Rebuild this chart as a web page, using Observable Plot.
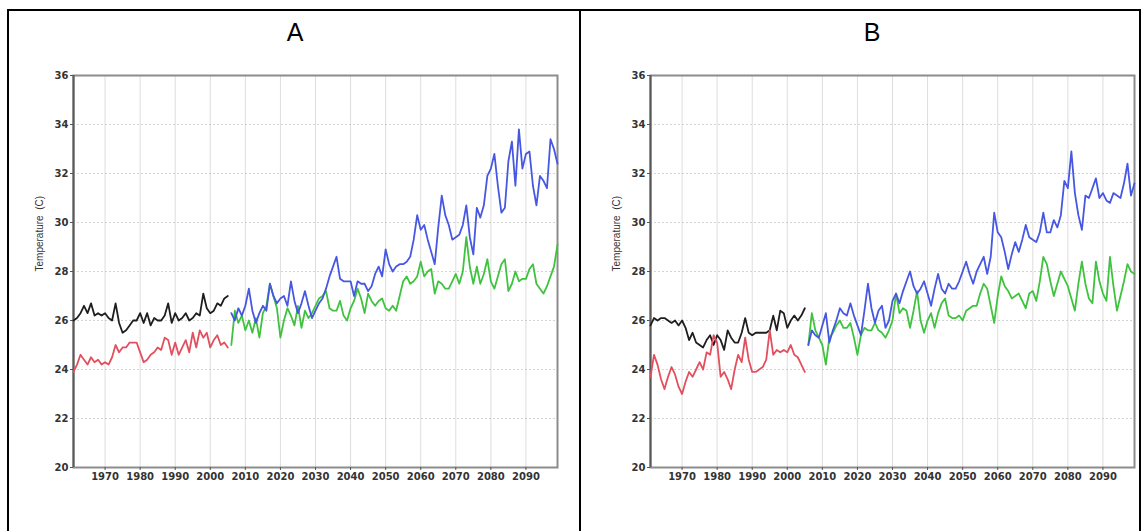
<!DOCTYPE html>
<html>
<head>
<meta charset="utf-8">
<script src="https://cdn.jsdelivr.net/npm/d3@7"></script>
<script src="https://cdn.jsdelivr.net/npm/@observablehq/plot@0.6"></script>
<style>
  html, body { margin: 0; padding: 0; background: #fff; }
  body { width: 1148px; height: 531px; position: relative; overflow: hidden; font-family: "Liberation Sans", Arial, sans-serif; }
  .frame { position: absolute; left: 7px; top: 9px; width: 1134px; height: 540px; border: 2px solid #000; box-sizing: border-box; }
  .divider { position: absolute; left: 579px; top: 9px; width: 2px; height: 540px; background: #000; }
  .title { position: absolute; top: 20px; width: 60px; font-size: 25px; line-height: 25px; text-align: center; color: #000; }
  .panel { position: absolute; top: 65px; width: 560px; height: 430px; }
  .panel svg { max-width: none !important; }
</style>
</head>
<body>
<div class="frame"></div>
<div class="divider"></div>
<div class="title" style="left:265px">A</div>
<div class="title" style="left:842px">B</div>
<div class="panel" id="panelA" style="left:20px"></div>
<div class="panel" id="panelB" style="left:597px"></div>
<script>
// Annual mean temperature (°C): historical run 1961–2005, two scenario runs 2006–2099.
const histStart = 1961;
const futStart = 2006;
const xTicks = [1970, 1980, 1990, 2000, 2010, 2020, 2030, 2040, 2050, 2060, 2070, 2080, 2090];
const yTicks = [20, 22, 24, 26, 28, 30, 32, 34, 36];
const yLabel = "Temperature  (C)";

// Panel A
const blackA = [26.0, 26.1, 26.3, 26.6, 26.3, 26.7, 26.2, 26.3, 26.2, 26.3,
  26.1, 26.0, 26.7, 25.9, 25.5, 25.6, 25.8, 26.0, 26.0, 26.3,
  25.9, 26.3, 25.8, 26.1, 26.0, 26.0, 26.2, 26.7, 25.9, 26.3,
  26.0, 26.1, 26.3, 26.0, 26.1, 26.3, 26.2, 27.1, 26.5, 26.3,
  26.4, 26.7, 26.6, 26.9, 27.0];
const redA = [23.9, 24.2, 24.6, 24.4, 24.2, 24.5, 24.3, 24.4, 24.2, 24.3,
  24.2, 24.5, 25.0, 24.7, 24.9, 24.9, 25.1, 25.1, 25.1, 24.7,
  24.3, 24.4, 24.6, 24.7, 24.9, 24.8, 25.3, 25.2, 24.6, 25.1,
  24.6, 24.9, 25.2, 24.7, 25.5, 24.9, 25.6, 25.3, 25.5, 24.9,
  25.2, 25.4, 25.0, 25.1, 24.9];
const blueA = [26.3, 26.0, 26.5, 26.2, 26.6, 27.3, 26.4, 25.9, 26.3, 26.6,
  26.4, 27.5, 27.0, 26.7, 26.9, 27.0, 26.6, 27.6, 26.8, 26.3,
  26.7, 27.2, 26.6, 26.1, 26.4, 26.7, 26.9, 27.3, 27.8, 28.2,
  28.6, 27.7, 27.6, 27.6, 27.6, 27.0, 27.6, 27.5, 27.5, 27.2,
  27.4, 27.9, 28.2, 27.8, 28.9, 28.3, 28.0, 28.2, 28.3, 28.3,
  28.4, 28.6, 29.3, 30.3, 29.7, 29.9, 29.3, 28.8, 28.3, 29.8,
  31.1, 30.3, 29.9, 29.3, 29.4, 29.5, 29.9, 30.7, 29.4, 28.7,
  30.6, 30.2, 30.7, 31.9, 32.2, 32.8, 31.5, 30.4, 30.6, 32.5,
  33.3, 31.5, 33.8, 32.2, 32.8, 32.9, 31.5, 30.7, 31.9, 31.7,
  31.4, 33.4, 33.0, 32.4];
const greenA = [25.0, 26.4, 25.9, 26.2, 25.6, 26.0, 25.5, 26.1, 25.3, 26.3,
  26.6, 27.5, 27.0, 26.5, 25.3, 26.0, 26.5, 26.2, 25.8, 26.6,
  25.7, 26.4, 26.1, 26.3, 26.6, 26.9, 27.0, 27.2, 26.5, 26.4,
  26.4, 26.8, 26.2, 26.0, 26.5, 26.8, 27.3, 26.9, 26.3, 27.1,
  26.8, 26.6, 26.8, 26.9, 26.5, 26.4, 26.6, 26.4, 27.0, 27.6,
  27.8, 27.5, 27.6, 27.8, 28.4, 27.8, 28.0, 28.1, 27.1, 27.6,
  27.5, 27.3, 27.3, 27.6, 27.9, 27.5, 28.0, 29.4, 28.2, 27.5,
  28.2, 27.5, 27.9, 28.5, 27.6, 27.3, 27.8, 28.3, 28.5, 27.2,
  27.5, 28.0, 27.6, 27.7, 27.7, 28.1, 28.3, 27.5, 27.3, 27.1,
  27.4, 27.8, 28.2, 29.1];

// Panel B
const blackB = [25.8, 26.1, 26.0, 26.1, 26.1, 26.0, 25.9, 26.0, 25.8, 26.0,
  25.7, 25.2, 25.5, 25.1, 25.0, 24.9, 25.2, 25.4, 25.0, 25.4,
  25.2, 24.8, 25.6, 25.3, 25.1, 25.1, 25.5, 26.1, 25.5, 25.4,
  25.5, 25.5, 25.5, 25.5, 25.6, 26.2, 25.6, 26.4, 26.3, 25.7,
  26.0, 26.2, 26.0, 26.2, 26.5];
const redB = [23.7, 24.6, 24.2, 23.6, 23.2, 23.7, 24.1, 23.8, 23.3, 23.0,
  23.5, 23.9, 23.7, 24.0, 24.3, 24.0, 24.7, 24.6, 25.4, 25.1,
  23.7, 23.9, 23.6, 23.2, 24.0, 24.6, 24.3, 25.3, 24.4, 23.9,
  23.9, 24.0, 24.1, 24.4, 25.6, 24.6, 24.8, 24.7, 24.8, 24.7,
  25.0, 24.6, 24.5, 24.2, 23.9];
const blueB = [25.0, 25.6, 25.4, 25.3, 25.8, 26.3, 25.1, 25.6, 26.0, 26.5,
  26.3, 26.2, 26.7, 26.2, 25.8, 25.4, 26.4, 27.5, 26.5, 25.9,
  26.4, 26.6, 25.7, 26.0, 26.8, 27.1, 26.7, 27.2, 27.6, 28.0,
  27.4, 27.1, 27.3, 27.6, 27.1, 26.6, 27.3, 27.9, 27.3, 27.1,
  27.5, 27.3, 27.3, 27.6, 28.0, 28.4, 27.9, 27.5, 28.0, 28.3,
  28.6, 27.9, 28.6, 30.4, 29.6, 29.4, 28.8, 28.1, 28.7, 29.2,
  28.8, 29.3, 29.9, 29.4, 29.3, 29.2, 29.6, 30.4, 29.6, 29.6,
  30.1, 29.8, 30.3, 31.7, 31.4, 32.9, 31.2, 30.3, 29.7, 31.1,
  31.0, 31.4, 31.8, 31.0, 31.2, 30.9, 30.8, 31.2, 31.1, 31.0,
  31.6, 32.4, 31.1, 31.6];
const greenB = [25.0, 26.3, 25.6, 25.3, 25.0, 24.2, 25.3, 25.5, 25.8, 26.0,
  25.7, 25.7, 25.9, 25.3, 24.6, 25.4, 25.7, 25.6, 25.6, 25.9,
  25.6, 25.5, 25.3, 25.6, 26.0, 27.1, 26.3, 26.5, 26.4, 25.7,
  26.4, 27.2, 26.0, 25.5, 26.0, 26.3, 25.7, 26.3, 26.7, 26.9,
  26.2, 26.1, 26.1, 26.2, 26.0, 26.4, 26.5, 26.6, 26.6, 27.1,
  27.5, 27.3, 26.6, 25.9, 27.0, 27.8, 27.4, 27.2, 26.9, 27.0,
  27.1, 26.8, 26.5, 27.1, 27.2, 26.8, 27.6, 28.6, 28.3, 27.6,
  27.0, 27.5, 28.0, 27.7, 27.4, 26.9, 26.4, 27.5, 28.4, 27.5,
  26.9, 26.7, 28.4, 27.6, 27.1, 26.8, 28.6, 27.4, 26.4, 27.0,
  27.6, 28.3, 28.0, 27.9];

const seriesColors = {black: "#1e1e1e", red: "#e2505e", blue: "#4657e2", green: "#3fc33f"};

const toRows = (values, start) => values.map((v, i) => ({year: start + i, value: v}));

function panel(black, red, blue, green) {
  const line = (values, start, color) =>
    Plot.line(toRows(values, start), {x: "year", y: "value", stroke: color, strokeWidth: 1.8, strokeLinejoin: "round"});
  return Plot.plot({
    width: 560,
    height: 430,
    marginLeft: 53,
    marginRight: 23,
    marginTop: 10,
    marginBottom: 28,
    style: {fontFamily: "'DejaVu Sans', sans-serif", fontSize: "10px", fontWeight: "bold", color: "#333", background: "transparent", overflow: "visible"},
    x: {domain: [1961, 2099]},
    y: {domain: [20, 36]},
    marks: [
      Plot.gridX(xTicks, {stroke: "#cfcfcf", strokeOpacity: 0.7}),
      Plot.gridY(yTicks, {stroke: "#b8b8b8", strokeOpacity: 0.6, strokeDasharray: "2,2"}),
      Plot.frame({stroke: "#8c8c8c", strokeWidth: 2}),
      Plot.ruleX([1961], {stroke: "#5a5a5a", strokeWidth: 2}),
      Plot.axisX(xTicks, {tickFormat: d => String(d), tickSize: 3, tickPadding: 2, label: null, stroke: "#555"}),
      Plot.axisY(yTicks, {tickSize: 3, tickPadding: 2, label: null, stroke: "#555"}),
      Plot.text([yLabel], {frameAnchor: "left", rotate: -90, dx: -34, fontWeight: "normal", fontSize: 10, fontFamily: "'Liberation Sans', Arial, sans-serif", fill: "#333"}),
      line(black, histStart, seriesColors.black),
      line(red, histStart, seriesColors.red),
      line(green, futStart, seriesColors.green),
      line(blue, futStart, seriesColors.blue)
    ]
  });
}

document.getElementById("panelA").append(panel(blackA, redA, blueA, greenA));
document.getElementById("panelB").append(panel(blackB, redB, blueB, greenB));
</script>
</body>
</html>
